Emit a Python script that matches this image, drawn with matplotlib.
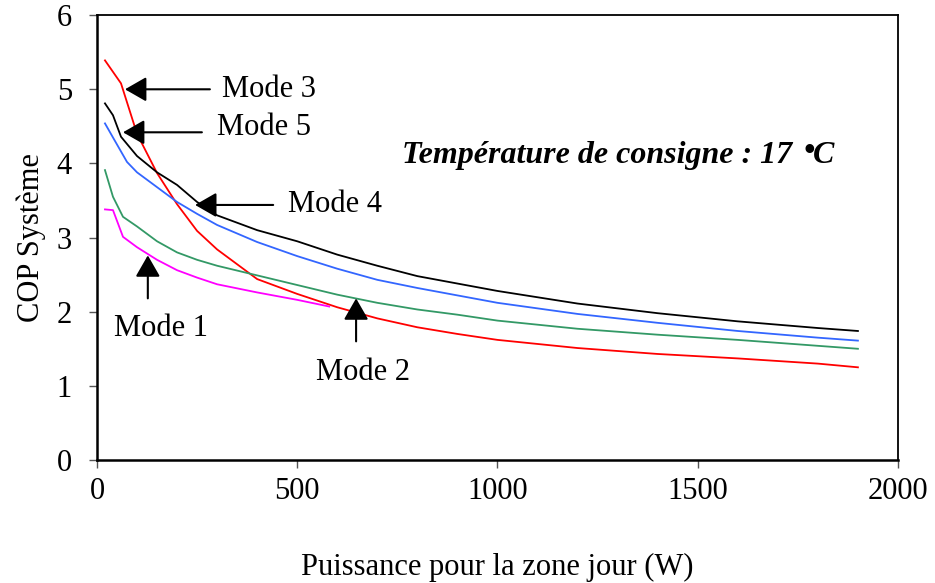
import matplotlib
matplotlib.use("Agg")
import matplotlib.pyplot as plt

# values
x_mode3 = [20, 60, 100, 150, 200, 250, 300, 400, 500, 600, 700, 800, 900, 1000, 1200, 1400, 1600, 1800, 1900]
cop_mode3 = [5.39, 5.08, 4.40, 3.87, 3.45, 3.09, 2.84, 2.44, 2.24, 2.06, 1.91, 1.79, 1.70, 1.62, 1.51, 1.43, 1.37, 1.30, 1.25]

x_mode5 = [20, 40, 60, 100, 150, 200, 250, 300, 400, 500, 600, 700, 800, 900, 1000, 1200, 1400, 1600, 1800, 1900]
cop_mode5 = [4.81, 4.65, 4.36, 4.10, 3.88, 3.71, 3.48, 3.30, 3.10, 2.95, 2.77, 2.62, 2.48, 2.38, 2.28, 2.11, 1.98, 1.87, 1.78, 1.74]

x_mode4 = [20, 40, 75, 100, 150, 200, 250, 300, 400, 500, 600, 700, 800, 900, 1000, 1200, 1400, 1600, 1800, 1900]
cop_mode4 = [4.54, 4.35, 4.02, 3.88, 3.68, 3.48, 3.32, 3.17, 2.94, 2.75, 2.58, 2.43, 2.32, 2.22, 2.12, 1.97, 1.85, 1.74, 1.65, 1.61]

x_mode2 = [20, 40, 65, 100, 150, 200, 250, 300, 400, 500, 600, 700, 800, 900, 1000, 1200, 1400, 1600, 1800, 1900]
cop_mode2 = [3.91, 3.55, 3.28, 3.15, 2.95, 2.80, 2.70, 2.62, 2.49, 2.36, 2.23, 2.12, 2.03, 1.96, 1.88, 1.77, 1.69, 1.62, 1.54, 1.50]

x_mode1 = [20, 40, 65, 100, 150, 200, 250, 300, 400, 500, 580]
cop_mode1 = [3.38, 3.37, 3.01, 2.87, 2.70, 2.56, 2.46, 2.37, 2.26, 2.16, 2.07]

serif = ["Liberation Serif", "DejaVu Serif"]
plt.rcParams["font.family"] = serif
plt.rcParams["font.size"] = 22

fig = plt.figure(figsize=(9.35, 5.83), dpi=100)
ax = fig.add_axes([0.1037, 0.211, 0.8567, 0.763])

lw = 1.3
ax.plot(x_mode3, cop_mode3, color="#FF0000", lw=lw)
ax.plot(x_mode5, cop_mode5, color="#000000", lw=lw)
ax.plot(x_mode4, cop_mode4, color="#3366FF", lw=lw)
ax.plot(x_mode2, cop_mode2, color="#339966", lw=lw)
ax.plot(x_mode1, cop_mode1, color="#FF00FF", lw=lw)

ax.set_xlim(0, 2000)
ax.set_ylim(0, 6)
ax.set_xticks([0, 500, 1000, 1500, 2000])
ax.set_yticks([0, 1, 2, 3, 4, 5, 6])
ax.tick_params(direction="out", length=6, width=1, color="#555555")
ax.tick_params(axis="x", pad=6)
ax.tick_params(axis="y", pad=12)
for side in ["left", "bottom"]:
    ax.spines[side].set_linewidth(1.8)
for side in ["top", "right"]:
    ax.spines[side].set_linewidth(1.3)

ax.set_xlabel("Puissance pour la zone jour (W)", labelpad=34)
ax.set_ylabel("COP Système", labelpad=8)

arrow = dict(arrowstyle="-|>,head_length=0.47,head_width=0.27", mutation_scale=28,
             color="black", lw=1.5, shrinkA=0, shrinkB=0)

def label(text, tip, tail, text_xy, ha="left", va="center"):
    ax.annotate("", xy=tip, xytext=tail, arrowprops=arrow)
    ax.text(text_xy[0], text_xy[1], text, ha=ha, va=va)

label("Mode 3", (70, 5.0), (282, 5.0), (312, 5.0))
label("Mode 5", (65, 4.42), (262, 4.42), (300, 4.48))
label("Mode 4", (245, 3.44), (440, 3.44), (478, 3.44))
label("Mode 1", (127, 2.76), (127, 2.18), (160, 1.78), ha="center")
label("Mode 2", (647, 2.18), (647, 1.60), (665, 1.18), ha="center")

# note in the plot, the raised bullet stands for the degree sign
note_style = dict(fontweight="bold", fontstyle="italic", fontsize=23)
t1 = ax.text(762, 4.11, "Température de consigne : 17 ", ha="left", va="center", **note_style)
ax.annotate("•", xy=(1, 0.12), xycoords=t1, xytext=(2, 0), textcoords="offset points",
            ha="left", va="bottom", **note_style)
ax.annotate("C", xy=(1, 0), xycoords=t1, xytext=(9, 0), textcoords="offset points",
            ha="left", va="bottom", **note_style)

fig.savefig("out.png", dpi=100)
